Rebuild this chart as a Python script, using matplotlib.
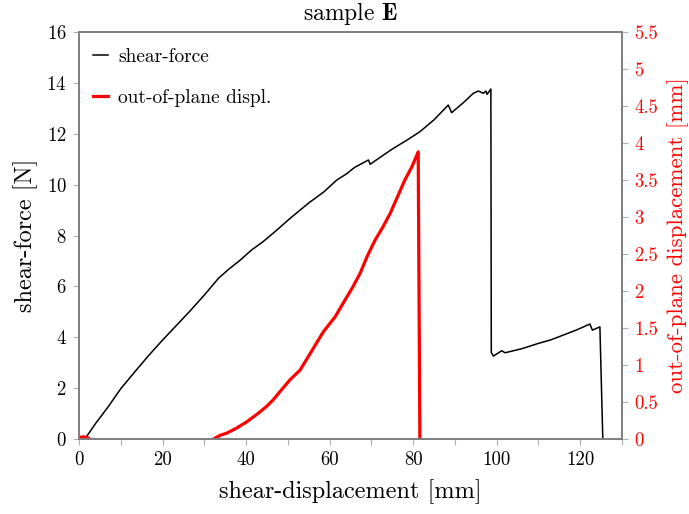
import numpy as np
import matplotlib
matplotlib.use("Agg")
import matplotlib.pyplot as plt
from matplotlib.ticker import FuncFormatter

# shear-force vs shear-displacement
force_x = [0.0, 1.4, 4.0, 7.0, 10.0, 13.4, 16.5, 20.0, 23.0, 26.5, 30.0, 33.4,
           35.8, 38.5, 41.3, 44.0, 46.9, 50.5, 55.0, 58.5, 61.7, 64.0, 66.0,
           69.3, 69.7, 72.5, 75.0, 78.5, 81.6, 85.0, 88.4, 89.2, 92.0, 94.4,
           95.6, 96.8, 97.4, 97.7, 98.6, 98.7, 99.2, 101.2, 102.0, 106.0,
           110.0, 113.0, 116.0, 119.0, 122.3, 122.9, 124.7, 125.4]
force_y = [0.0, 0.0, 0.62, 1.27, 1.98, 2.65, 3.25, 3.89, 4.41, 5.02, 5.66, 6.32,
           6.67, 7.02, 7.43, 7.75, 8.15, 8.67, 9.28, 9.70, 10.18, 10.42, 10.68,
           10.97, 10.80, 11.12, 11.40, 11.75, 12.08, 12.55, 13.13, 12.83, 13.22,
           13.59, 13.68, 13.59, 13.68, 13.55, 13.76, 3.40, 3.26, 3.47, 3.39,
           3.55, 3.76, 3.90, 4.09, 4.28, 4.52, 4.28, 4.41, 0.0]

# out-of-plane displacement vs shear-displacement (gap where no reading)
oop_x = [0.0, 1.0, 2.0, 2.5, 3.0, 32.2, 33.8, 35.4, 37.8, 40.1, 42.5, 44.9,
         46.5, 48.1, 50.5, 52.9, 55.5, 58.5, 61.3, 63.7, 65.5, 67.3, 69.0,
         70.9, 72.7, 74.5, 76.3, 78.0, 79.7, 81.2, 81.5, 81.6]
oop_y = [0.02, 0.03, 0.02, 0.0, np.nan, 0.0, 0.05, 0.08, 0.15, 0.23, 0.33, 0.44,
         0.53, 0.64, 0.80, 0.93, 1.17, 1.45, 1.65, 1.88, 2.05, 2.24, 2.47,
         2.69, 2.86, 3.05, 3.28, 3.50, 3.68, 3.88, 1.0, 0.0]

x_ticks = np.arange(0, 131, 10)
force_ticks = np.arange(0, 17, 2)
oop_ticks = np.arange(0, 5.51, 0.5)

plt.rcParams["font.family"] = ["cmr10", "DejaVu Serif"]
plt.rcParams["mathtext.fontset"] = "cm"
plt.rcParams["axes.formatter.use_mathtext"] = True

grey = "#808080"
fig = plt.figure(figsize=(6.89, 5.14), dpi=100)
ax = fig.add_axes([0.1147, 0.1459, 0.7881, 0.7918])
ax2 = ax.twinx()

ax.plot(force_x, force_y, color="black", lw=1.1, label="shear-force")
ax2.plot(oop_x, oop_y, color="red", lw=2.3, label="out-of-plane displ.")

ax.set_xlim(0, 130)
ax.set_ylim(0, 16)
ax2.set_ylim(0, 5.5)

ax.set_xticks(x_ticks)
ax.xaxis.set_major_formatter(FuncFormatter(lambda v, p: f"{int(v)}" if int(round(v)) % 20 == 0 else ""))
ax.set_yticks(force_ticks)
ax2.set_yticks(oop_ticks)
ax2.yaxis.set_major_formatter(FuncFormatter(lambda v, p: f"{v:g}"))

for a in (ax, ax2):
    for s in a.spines.values():
        s.set_color(grey)
        s.set_linewidth(1.3)
    a.tick_params(length=4, width=0.8, color="#b0b0b0", labelsize=13.5, pad=5)
ax2.tick_params(axis="y", labelcolor="red")

ax.set_xlabel("shear-displacement [mm]", fontsize=17.5, labelpad=7)
ax.set_ylabel("shear-force [N]", fontsize=17.5, labelpad=6)
ax2.set_ylabel("out-of-plane displacement [mm]", fontsize=16.5, color="red", labelpad=6)
ax.set_title(r"sample $\mathbf{E}$", fontsize=17, pad=9)

h1, l1 = ax.get_legend_handles_labels()
h2, l2 = ax2.get_legend_handles_labels()
ax2.legend(h1 + h2, l1 + l2, loc="upper left", frameon=False, fontsize=14,
           handlelength=0.8, handletextpad=0.5, labelspacing=1.2,
           borderaxespad=0.3, bbox_to_anchor=(0.0, 0.995))

fig.savefig("out.png", dpi=100)
